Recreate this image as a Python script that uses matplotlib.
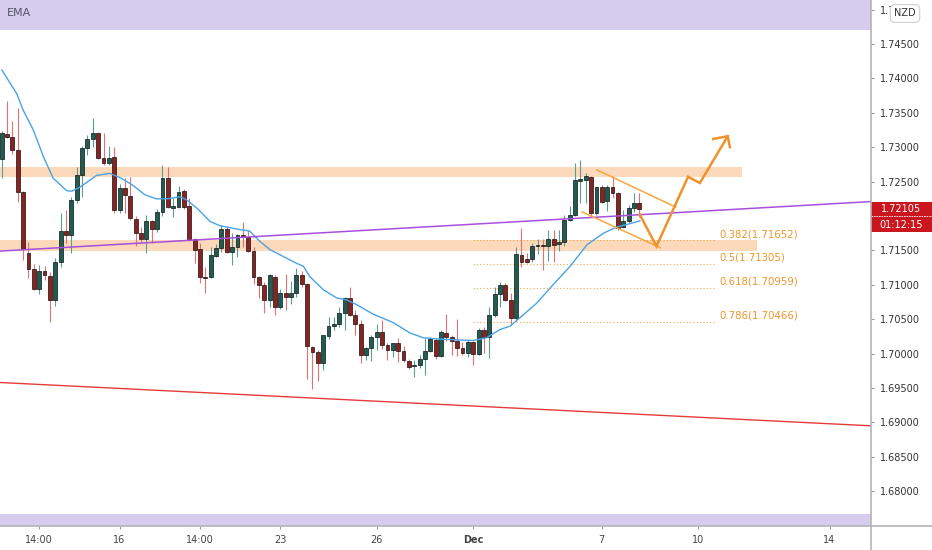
import matplotlib
matplotlib.use('Agg')
import matplotlib.pyplot as plt
import matplotlib.transforms as mtransforms
from matplotlib.patches import Rectangle
from matplotlib.lines import Line2D
import numpy as np

# ---------------- data (4h candles, NZD) ----------------
opens = [1.7283,1.7319,1.7315,1.7296,1.7235,1.7146,1.7123,1.7094,1.7120,1.7113,
         1.7078,1.7133,1.7178,1.7173,1.7223,1.7260,1.7299,1.7312,1.7321,1.7284,
         1.7277,1.7286,1.7209,1.7241,1.7229,1.7196,1.7175,1.7167,1.7193,1.7181,
         1.7206,1.7255,1.7212,1.7213,1.7236,1.7215,1.7167,1.7152,1.7112,1.7112,
         1.7142,1.7154,1.7181,1.7148,1.7155,1.7173,1.7170,1.7149,1.7112,1.7100,
         1.7078,1.7112,1.7068,1.7088,1.7082,1.7088,1.7114,1.7101,1.7010,1.7003,
         1.6987,1.7026,1.7040,1.7043,1.7059,1.7081,1.7056,1.7043,1.6998,1.7008,
         1.7024,1.7032,1.7013,1.7005,1.7016,1.7004,1.6989,1.6982,1.6984,1.6992,
         1.7004,1.7020,1.6997,1.7030,1.7024,1.7019,1.7008,1.7001,1.7017,1.6999,
         1.7035,1.7024,1.7056,1.7087,1.7099,1.7078,1.7052,1.7143,1.7138,1.7138,
         1.7157,1.7158,1.7157,1.7167,1.7160,1.7162,1.7194,1.7202,1.7251,1.7252,
         1.7257,1.7205,1.7242,1.7222,1.7242,1.7234,1.7184,1.7193,1.7212,1.7219]
highs = [1.7324,1.7367,1.7338,1.7357,1.7236,1.7162,1.7130,1.7129,1.7127,1.7119,
         1.7139,1.7205,1.7209,1.7228,1.7271,1.7302,1.7318,1.7343,1.7322,1.7321,
         1.7302,1.7300,1.7247,1.7255,1.7257,1.7200,1.7184,1.7202,1.7194,1.7210,
         1.7274,1.7271,1.7226,1.7244,1.7239,1.7226,1.7168,1.7161,1.7126,1.7155,
         1.7160,1.7187,1.7184,1.7175,1.7174,1.7191,1.7180,1.7155,1.7113,1.7104,
         1.7116,1.7114,1.7094,1.7116,1.7106,1.7125,1.7120,1.7103,1.7011,1.7005,
         1.7027,1.7053,1.7053,1.7068,1.7082,1.7097,1.7064,1.7049,1.7010,1.7027,
         1.7043,1.7049,1.7016,1.7016,1.7023,1.7011,1.6992,1.6991,1.6998,1.7023,
         1.7024,1.7023,1.7035,1.7058,1.7027,1.7051,1.7017,1.7020,1.7019,1.7037,
         1.7039,1.7068,1.7097,1.7104,1.7103,1.7088,1.7155,1.7183,1.7146,1.7161,
         1.7167,1.7167,1.7180,1.7180,1.7180,1.7202,1.7215,1.7277,1.7282,1.7263,
         1.7258,1.7242,1.7245,1.7245,1.7258,1.7235,1.7209,1.7216,1.7234,1.7234]
lows = [1.7255,1.7313,1.7290,1.7221,1.7136,1.7110,1.7093,1.7087,1.7107,1.7046,
        1.7069,1.7126,1.7161,1.7146,1.7219,1.7228,1.7289,1.7300,1.7283,1.7274,
        1.7274,1.7205,1.7205,1.7205,1.7194,1.7157,1.7162,1.7146,1.7161,1.7177,
        1.7200,1.7212,1.7199,1.7212,1.7210,1.7164,1.7132,1.7103,1.7088,1.7110,
        1.7141,1.7148,1.7146,1.7129,1.7141,1.7155,1.7148,1.7101,1.7081,1.7059,
        1.7068,1.7056,1.7065,1.7064,1.7072,1.7082,1.7097,1.6963,1.6949,1.6960,
        1.6976,1.7021,1.7035,1.7039,1.7035,1.7055,1.7027,1.6987,1.6991,1.6989,
        1.7005,1.7007,1.6991,1.6995,1.6988,1.6988,1.6978,1.6966,1.6979,1.6969,
        1.7003,1.6992,1.6995,1.7019,1.6998,1.6997,1.6998,1.6995,1.6984,1.6998,
        1.7001,1.6994,1.7053,1.7068,1.7077,1.7042,1.7048,1.7126,1.7132,1.7133,
        1.7145,1.7122,1.7135,1.7133,1.7149,1.7157,1.7193,1.7200,1.7219,1.7219,
        1.7200,1.7202,1.7219,1.7207,1.7226,1.7180,1.7183,1.7190,1.7206,1.7199]
closes = [1.7321,1.7315,1.7296,1.7235,1.7152,1.7123,1.7094,1.7120,1.7114,1.7078,
          1.7133,1.7178,1.7173,1.7223,1.7260,1.7299,1.7312,1.7321,1.7284,1.7277,
          1.7284,1.7209,1.7241,1.7231,1.7197,1.7175,1.7167,1.7193,1.7181,1.7206,
          1.7255,1.7213,1.7215,1.7235,1.7213,1.7165,1.7151,1.7112,1.7110,1.7143,
          1.7154,1.7181,1.7148,1.7155,1.7173,1.7170,1.7149,1.7112,1.7100,1.7078,
          1.7114,1.7068,1.7088,1.7082,1.7088,1.7114,1.7101,1.7011,1.7003,1.6987,
          1.7027,1.7040,1.7043,1.7059,1.7081,1.7056,1.7043,1.6998,1.7008,1.7024,
          1.7032,1.7013,1.7005,1.7016,1.7004,1.6991,1.6981,1.6984,1.6992,1.7004,
          1.7021,1.6997,1.7032,1.7024,1.7019,1.7008,1.7001,1.7017,1.6999,1.7035,
          1.7024,1.7056,1.7087,1.7099,1.7078,1.7052,1.7145,1.7133,1.7133,1.7157,
          1.7158,1.7157,1.7167,1.7158,1.7162,1.7194,1.7202,1.7252,1.7254,1.7258,
          1.7205,1.7242,1.7221,1.7242,1.7234,1.7183,1.7193,1.7212,1.7219,1.72105]

# EMA (candle index, price)
ema_x = [0.05, 2.8, 4.0, 5.9, 7.8, 9.6, 12.1, 13.1, 14.6, 17.7, 20.2, 22.3, 24.6, 26.7,
         28.8, 30.9, 33.3, 34.6, 36.5, 38.9, 40.7, 43.9, 46.3, 48.2, 50.1, 52.6, 55.1,
         56.3, 57.5, 60.0, 62.5, 64.4, 66.3, 69.4, 73.1, 76.2, 78.7, 81.8, 84.9, 88.0,
         90.5, 93.0, 94.9, 96.7, 99.8, 102.9, 106.1, 109.2, 112.3, 114.8, 117.3, 119.1]
ema_y = [1.7412, 1.7378, 1.7354, 1.7325, 1.7286, 1.7255, 1.7237, 1.7236, 1.7242, 1.7259,
         1.7262, 1.7255, 1.7244, 1.7231, 1.7225, 1.7225, 1.7228, 1.7223, 1.7211, 1.7192,
         1.7186, 1.7181, 1.7178, 1.7163, 1.7151, 1.7141, 1.7131, 1.7127, 1.7112, 1.7093,
         1.7081, 1.7078, 1.7071, 1.7057, 1.7045, 1.7030, 1.7023, 1.7021, 1.7020, 1.7019,
         1.7023, 1.7035, 1.7040, 1.7052, 1.7073, 1.7100, 1.7127, 1.7158, 1.7175, 1.7184,
         1.7189, 1.7193]

# drawings
purple_x = [-0.32, 162.3]
purple_y = [1.7149, 1.7221]
red_x = [-0.32, 162.3]
red_y = [1.6958, 1.6895]

zone_lo = [1.7257, 1.7149]
zone_hi = [1.7271, 1.7165]
zone_end = [138.2, 141.0]

band_top_lo = 1.7470
band_bot_hi = 1.6767

flag_up_x = [111.1, 125.8]
flag_up_y = [1.7267, 1.7213]
flag_lo_x = [108.3, 122.9]
flag_lo_y = [1.7206, 1.7154]
path_x = [119.1, 122.2, 128.1, 130.3, 135.5]
path_y = [1.7202, 1.7156, 1.7257, 1.7248, 1.7316]
arrow_x = [132.8, 135.5, 135.9]
arrow_y = [1.7312, 1.7316, 1.7300]

fib_levels = ['0.382', '0.5', '0.618', '0.786']
fib_prices = [1.71652, 1.71305, 1.70959, 1.70466]
fib_x0, fib_x1 = 88.0, 133.1

xtick_pos = [7, 22, 37, 52, 70, 88, 112, 130, 154.5]
xtick_lab = ['14:00', '16', '14:00', '23', '26', 'Dec', '7', '10', '14']
ytick_vals = [1.680, 1.685, 1.690, 1.695, 1.700, 1.705, 1.710, 1.715,
              1.725, 1.730, 1.735, 1.740, 1.745, 1.750]
countdown = '01:12:15'

# ---------------- figure ----------------
W, H = 932, 550
AX_R, AX_B = 871, 526
fig = plt.figure(figsize=(W / 100, H / 100), dpi=100)
fig.patch.set_facecolor('white')
ax = fig.add_axes([0, (H - AX_B) / H, AX_R / W, AX_B / H])
ax.set_xlim(-0.317, 162.24)
ax.set_ylim(1.67494, 1.7514)
for s in ax.spines.values():
    s.set_visible(False)

# bands
ax.axhspan(band_top_lo, 1.7514, color='#d6cdee', zorder=0.5, lw=0)
ax.axhspan(1.67494, band_bot_hi, color='#d6cdee', zorder=0.5, lw=0)
for lo, hi, xe in zip(zone_lo, zone_hi, zone_end):
    ax.add_patch(Rectangle((-0.317, lo), xe + 0.317, hi - lo, color='#fcd9bb', lw=0, zorder=0.6))

# fib lines
for lab, pr in zip(fib_levels, fib_prices):
    ax.plot([fib_x0, fib_x1], [pr, pr], color='#f2a54a', lw=0.8, ls=(0, (1, 2)), zorder=1)
    ax.text(fib_x1 + 0.8, pr + 0.00085, f'{lab}({pr:.5f})', color='#f0952a', fontsize=7.3,
            va='center', ha='left', zorder=4)

# candles
o = np.array(opens); h = np.array(highs); l = np.array(lows); c = np.array(closes)
idx = np.arange(len(o))
up = c >= o
body_lo = np.minimum(o, c)
body_h = np.maximum(np.abs(c - o), 0.00005)
ax.vlines(idx[up], l[up], h[up], color='#5a9e90', lw=0.8, zorder=2)
ax.vlines(idx[~up], l[~up], h[~up], color='#e27272', lw=0.8, zorder=2)
ax.bar(idx[up], body_h[up], bottom=body_lo[up], width=0.72, color='#1f5d53',
       edgecolor='#111111', linewidth=0.5, zorder=2.5)
ax.bar(idx[~up], body_h[~up], bottom=body_lo[~up], width=0.72, color='#8a2222',
       edgecolor='#111111', linewidth=0.5, zorder=2.5)

# EMA and trend lines
ax.plot(ema_x, ema_y, color='#4aa3e6', lw=1.0, zorder=3)
ax.plot(purple_x, purple_y, color='#a750dc', lw=1.1, zorder=3)
ax.plot(red_x, red_y, color='#e53b3b', lw=1.0, zorder=3)

# flag pattern and projected path
ax.plot(flag_up_x, flag_up_y, color='#f7a640', lw=1.1, zorder=3.2)
ax.plot(flag_lo_x, flag_lo_y, color='#f7a640', lw=1.1, zorder=3.2)
ax.plot(path_x, path_y, color='#f0922b', lw=1.8, zorder=3.3, solid_joinstyle='miter')
ax.plot(arrow_x, arrow_y, color='#f0922b', lw=1.8, zorder=3.3, solid_joinstyle='miter')

# ticks
ax.yaxis.tick_right()
ax.set_yticks(ytick_vals)
ax.set_yticklabels([f'{v:.5f}' for v in ytick_vals])
ax.set_xticks(xtick_pos)
ax.set_xticklabels(xtick_lab)
ax.tick_params(axis='y', length=2.5, width=0.8, color='#9a9a9a', pad=4,
               labelsize=7, labelcolor='#333333')
ax.tick_params(axis='x', length=2.5, width=0.8, color='#9a9a9a', pad=4,
               labelsize=7, labelcolor='#444444')
for t in ax.get_xticklabels():
    if t.get_text() == 'Dec':
        t.set_fontweight('bold')

# axis separator lines spanning the figure
fig.add_artist(Line2D([AX_R / W, AX_R / W], [0, 1], color='#b4b4b4', lw=1.2,
                      transform=fig.transFigure))
fig.add_artist(Line2D([0, 1], [(H - AX_B) / H] * 2, color='#b4b4b4', lw=1.2,
                      transform=fig.transFigure))

# last price box
last = closes[-1]
trans = mtransforms.blended_transform_factory(ax.transAxes, ax.transData)
ax.add_patch(Rectangle((1.0, last - 0.00333), 61 / AX_R, 0.00436, transform=trans,
                       color='#c9161f', lw=0, clip_on=False, zorder=5))
ax.plot([1.0, 1.0 + 61 / AX_R], [last - 0.00112] * 2, transform=trans, color='white',
        lw=0.6, ls=(0, (2, 1)), clip_on=False, zorder=5.5)
ax.text(1.0 + 30 / AX_R, last, f'{last:.5f}', transform=trans, ha='center', va='center',
        color='white', fontsize=7, clip_on=False, zorder=6)
ax.text(1.0 + 30 / AX_R, last - 0.00232, countdown, transform=trans, ha='center',
        va='center', color='white', fontsize=7, clip_on=False, zorder=6)

# labels
fig.text(7 / W, 1 - 13.5 / H, 'EMA', fontsize=8, color='#555566', va='center', ha='left')
fig.text(905 / W, 1 - 13.5 / H, 'NZD', fontsize=7, color='#333333', va='center', ha='center',
         bbox=dict(boxstyle='round,pad=0.4,rounding_size=0.5', fc='white', ec='#cfcfcf', lw=0.8))

fig.savefig('out.png', dpi=100, facecolor='white')
